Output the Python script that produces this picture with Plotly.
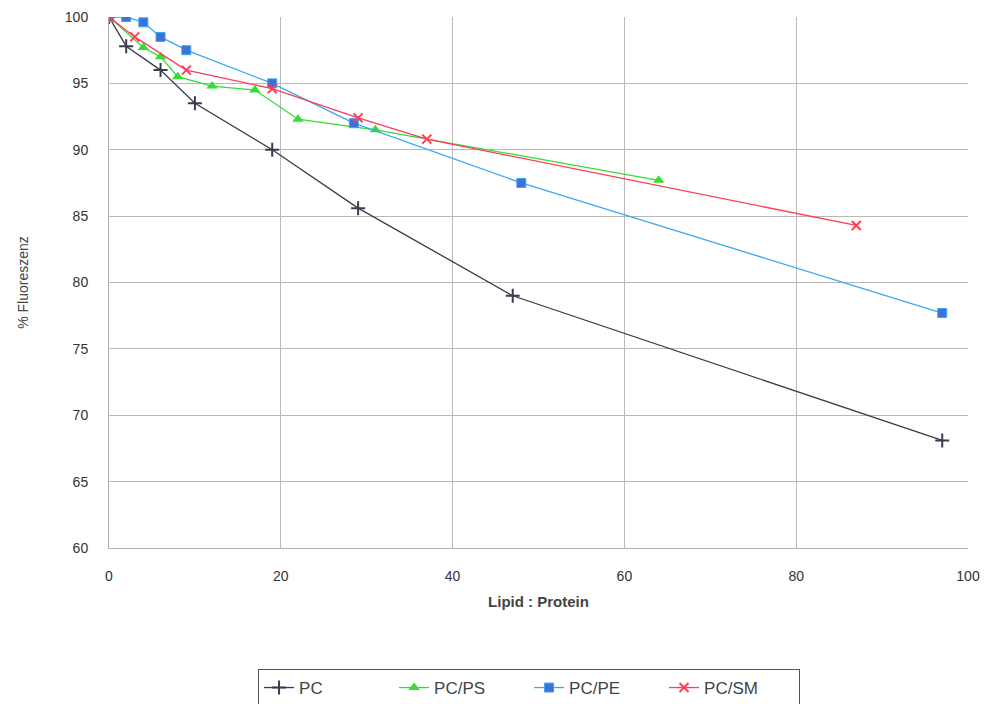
import plotly.graph_objects as go

pc_x = [0, 2, 6, 10, 19, 29, 47, 97]
pc_y = [100, 97.8, 96.0, 93.5, 90.0, 85.6, 79.0, 68.1]

ps_x = [0, 4, 6, 8, 12, 17, 22, 31, 64]
ps_y = [100, 97.7, 97.0, 95.5, 94.8, 94.5, 92.3, 91.5, 87.7]

pe_x = [0, 2, 4, 6, 9, 19, 28.5, 48, 97]
pe_y = [100, 100, 99.6, 98.5, 97.5, 95.0, 92.0, 87.5, 77.7]

sm_x = [0, 3, 9, 19, 29, 37, 87]
sm_y = [100, 98.5, 96.0, 94.6, 92.4, 90.8, 84.3]

x_ticks = [0, 20, 40, 60, 80, 100]
y_ticks = [60, 65, 70, 75, 80, 85, 90, 95, 100]

fig = go.Figure()
fig.add_trace(go.Scatter(x=pc_x, y=pc_y, name="PC", mode="lines+markers",
                         line=dict(color="#3b3b4f", width=1.3),
                         marker=dict(symbol="cross-thin", size=10,
                                     line=dict(color="#3b3b4f", width=2))))
fig.add_trace(go.Scatter(x=ps_x, y=ps_y, name="PC/PS", mode="lines+markers",
                         line=dict(color="#33dd33", width=1.3),
                         marker=dict(symbol="triangle-up", size=10, color="#33dd33")))
fig.add_trace(go.Scatter(x=pe_x, y=pe_y, name="PC/PE", mode="lines+markers",
                         line=dict(color="#3aa8ee", width=1.3),
                         marker=dict(symbol="square", size=9, color="#3f6fd8",
                                     line=dict(color="#3aa8ee", width=1))))
fig.add_trace(go.Scatter(x=sm_x, y=sm_y, name="PC/SM", mode="lines+markers",
                         line=dict(color="#ff3c5a", width=1.3),
                         marker=dict(symbol="x-thin", size=9,
                                     line=dict(color="#ff3c5a", width=2))))

H = 696
fig.update_layout(
    width=980, height=H,
    margin=dict(l=101, r=20, t=9, b=H - 540, autoexpand=False),
    paper_bgcolor="white", plot_bgcolor="white",
    font=dict(family="Liberation Sans, Arial, sans-serif", size=14, color="#333333"),
    showlegend=True,
    legend=dict(orientation="h", x=0.489, xanchor="center",
                yref="container", y=1 - 661 / H, yanchor="top",
                bordercolor="#555555", borderwidth=1,
                font=dict(size=17, color="#444444"),
                entrywidth=90, entrywidthmode="pixels", tracegroupgap=0),
    xaxis=dict(range=[0, 100], tickvals=x_ticks, showgrid=True,
               gridcolor="#b8b8b8", gridwidth=1, zeroline=False,
               showline=True, linecolor="#b0b0b0",
               ticks="", ticklabelstandoff=15,
               title=dict(text="<b>Lipid : Protein</b>",
                          font=dict(size=15, color="#444444"), standoff=13)),
    yaxis=dict(range=[60, 100], tickvals=y_ticks, showgrid=True,
               gridcolor="#b8b8b8", gridwidth=1, zeroline=False,
               showline=True, linecolor="#b0b0b0",
               ticks="", ticklabelstandoff=17,
               title=dict(text="% Fluoreszenz",
                          font=dict(size=14, color="#444444"), standoff=32)),
)

fig.write_html("out.html")
